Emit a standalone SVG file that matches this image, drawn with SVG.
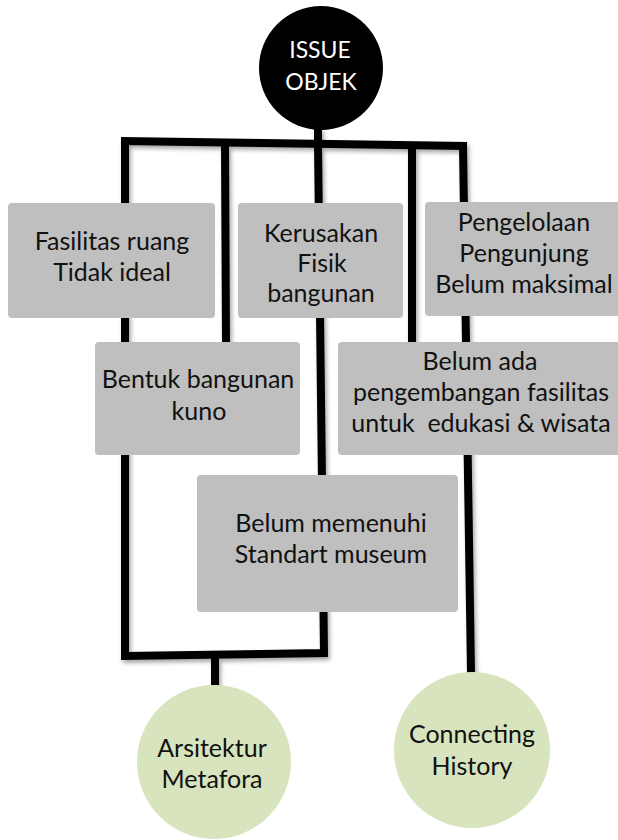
<svg xmlns="http://www.w3.org/2000/svg" width="618" height="840" viewBox="0 0 618 840">
<style>
.ln{fill:none;stroke:#000;stroke-width:8;stroke-linejoin:miter;stroke-linecap:butt}
.box{fill:#bfbfbf}
.grn{fill:#d7e4bd}
text{font-family:Lato,"Liberation Sans",sans-serif;font-size:25px;text-anchor:middle;fill:#111}
.wt{fill:#fff;font-size:23px}
</style>
<defs>
<filter id="sh" x="-10%" y="-10%" width="130%" height="130%">
<feDropShadow dx="2" dy="3" stdDeviation="2" flood-color="#000" flood-opacity="0.35"/>
</filter>
</defs>
<g id="connectors" filter="url(#sh)">
<path class="ln" d="M318,128 L318,143"/>
<path class="ln" d="M121,141 L467,146"/>
<path class="ln" d="M125,141 L125,656 L324,653 L318,143"/>
<path class="ln" d="M225,144 L226,345"/>
<path class="ln" d="M412,145 L412,345"/>
<path class="ln" d="M463,146 L471,673"/>
<path class="ln" d="M215,655 L215,688"/>
</g>
<g id="issue">
<circle cx="321" cy="68" r="62" fill="#000"/>
<text class="wt" x="320" y="58">ISSUE</text>
<text class="wt" x="321" y="90">OBJEK</text>
</g>
<g id="fasilitas">
<rect class="box" x="8" y="203" width="207" height="115" rx="4"/>
<text x="112" y="250">Fasilitas ruang</text>
<text x="112" y="281">Tidak ideal</text>
</g>
<g id="kerusakan">
<rect class="box" x="238" y="203" width="165" height="115" rx="4"/>
<text x="321" y="242">Kerusakan</text>
<text x="322" y="272">Fisik</text>
<text x="321" y="302">bangunan</text>
</g>
<g id="pengelolaan">
<rect class="box" x="425" y="202" width="200" height="114" rx="4"/>
<text x="524" y="231">Pengelolaan</text>
<text x="524" y="262">Pengunjung</text>
<text x="524" y="293">Belum maksimal</text>
</g>
<g id="bentuk">
<rect class="box" x="95" y="342" width="205" height="113" rx="4"/>
<text x="198" y="388">Bentuk bangunan</text>
<text x="199" y="420">kuno</text>
</g>
<g id="pengembangan">
<rect class="box" x="338" y="342" width="287" height="113" rx="4"/>
<text x="480" y="370">Belum ada</text>
<text x="481" y="401">pengembangan fasilitas</text>
<text x="481" y="432" xml:space="preserve">untuk  edukasi &amp; wisata</text>
</g>
<g id="standart">
<rect class="box" x="197" y="475" width="261" height="137" rx="4"/>
<text x="331" y="532">Belum memenuhi</text>
<text x="331" y="563">Standart museum</text>
</g>
<g id="arsitektur">
<circle class="grn" cx="214" cy="762" r="77"/>
<text x="212" y="757">Arsitektur</text>
<text x="212" y="788">Metafora</text>
</g>
<g id="connecting">
<circle class="grn" cx="472" cy="750" r="78"/>
<text x="472" y="743">Connecting</text>
<text x="472" y="775">History</text>
</g>
</svg>
